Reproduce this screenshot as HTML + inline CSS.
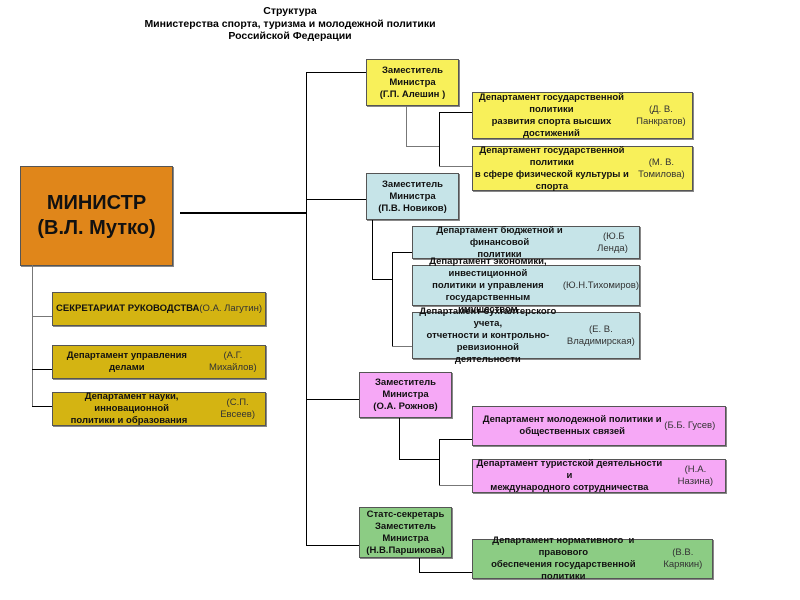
<!DOCTYPE html>
<html><head><meta charset="utf-8"><style>
body{margin:0;width:800px;height:600px;background:#fff;position:relative;overflow:hidden;font-family:"Liberation Sans","DejaVu Sans",sans-serif;}
.b{position:absolute;box-sizing:border-box;border:1px solid #555;box-shadow:1px 1px 0 #888;display:flex;align-items:center;justify-content:center;text-align:center;font-size:9.5px;line-height:12px;font-weight:bold;color:#111;}
.n{font-weight:normal;color:#333;}
.l{position:absolute;background:#000;}
.g{position:absolute;background:#777;}
.t{position:absolute;left:90px;width:400px;text-align:center;font-size:10.5px;font-weight:bold;line-height:12.5px;top:5px;}
.y{background:#f8f05a}.c{background:#c6e4e8}.p{background:#f6a8f6}.gr{background:#8ccc84}.o{background:#d4b412}
</style></head><body>
<div class="t">Структура<br>Министерства спорта, туризма и молодежной политики<br>Российской Федерации</div>

<div class="b" style="left:20px;top:166px;width:153px;height:100px;background:#e0861a;font-size:20px;line-height:25px;">МИНИСТР<br>(В.Л. Мутко)</div>

<!-- main lines -->
<div class="l" style="left:180px;top:212px;width:127px;height:2px"></div>
<div class="l" style="left:306px;top:72px;width:1px;height:474px"></div>
<div class="l" style="left:306px;top:72px;width:60px;height:1px"></div>
<div class="l" style="left:306px;top:199px;width:60px;height:1px"></div>
<div class="l" style="left:306px;top:399px;width:53px;height:1px"></div>
<div class="l" style="left:306px;top:545px;width:53px;height:1px"></div>

<!-- left -->
<div class="g" style="left:32px;top:265px;width:1px;height:142px"></div>
<div class="g" style="left:32px;top:316px;width:20px;height:1px"></div>
<div class="l" style="left:32px;top:369px;width:20px;height:1px"></div>
<div class="l" style="left:32px;top:406px;width:20px;height:1px"></div>
<div class="b o" style="left:52px;top:292px;width:214px;height:34px">СЕКРЕТАРИАТ РУКОВОДСТВА<br><span class="n">(О.А. Лагутин)</span></div>
<div class="b o" style="left:52px;top:345px;width:214px;height:34px">Департамент управления делами<br><span class="n">(А.Г. Михайлов)</span></div>
<div class="b o" style="left:52px;top:392px;width:214px;height:34px">Департамент науки, инновационной<br>политики и образования&nbsp;&nbsp;<span class="n">(С.П. Евсеев)</span></div>

<!-- Aleshin -->
<div class="b y" style="left:366px;top:59px;width:93px;height:47px">Заместитель<br>Министра<br>(Г.П. Алешин )</div>
<div class="g" style="left:406px;top:106px;width:1px;height:40px"></div>
<div class="g" style="left:406px;top:146px;width:33px;height:1px"></div>
<div class="l" style="left:439px;top:112px;width:1px;height:55px"></div>
<div class="l" style="left:439px;top:112px;width:33px;height:1px"></div>
<div class="g" style="left:439px;top:166px;width:33px;height:1px"></div>
<div class="b y" style="left:472px;top:92px;width:221px;height:47px">Департамент государственной политики<br>развития спорта высших достижений<br><span class="n">(Д. В. Панкратов)</span></div>
<div class="b y" style="left:472px;top:146px;width:221px;height:45px">Департамент государственной политики<br>в сфере физической культуры и спорта<br><span class="n">(М. В. Томилова)</span></div>

<!-- Novikov -->
<div class="b c" style="left:366px;top:173px;width:93px;height:47px">Заместитель<br>Министра<br>(П.В. Новиков)</div>
<div class="l" style="left:372px;top:220px;width:1px;height:59px"></div>
<div class="l" style="left:372px;top:279px;width:20px;height:1px"></div>
<div class="l" style="left:392px;top:252px;width:1px;height:95px"></div>
<div class="l" style="left:392px;top:252px;width:20px;height:1px"></div>
<div class="g" style="left:392px;top:346px;width:20px;height:1px"></div>
<div class="b c" style="left:412px;top:226px;width:228px;height:33px">Департамент бюджетной и финансовой<br>политики <span class="n">&nbsp;(Ю.Б Ленда)</span></div>
<div class="b c" style="left:412px;top:265px;width:228px;height:41px">Департамент экономики, инвестиционной<br>политики и управления государственным<br>имуществом <span class="n">(Ю.Н.Тихомиров)</span></div>
<div class="b c" style="left:412px;top:312px;width:228px;height:47px">Департамент бухгалтерского учета,<br>отчетности и контрольно-ревизионной<br>деятельности <span class="n">(Е. В. Владимирская)</span></div>

<!-- Rozhnov -->
<div class="b p" style="left:359px;top:372px;width:93px;height:46px">Заместитель<br>Министра<br>(О.А. Рожнов)</div>
<div class="l" style="left:399px;top:418px;width:1px;height:41px"></div>
<div class="l" style="left:399px;top:459px;width:40px;height:1px"></div>
<div class="l" style="left:439px;top:439px;width:1px;height:47px"></div>
<div class="l" style="left:439px;top:439px;width:33px;height:1px"></div>
<div class="g" style="left:439px;top:485px;width:33px;height:1px"></div>
<div class="b p" style="left:472px;top:406px;width:254px;height:40px">Департамент молодежной политики и<br>общественных связей <span class="n">&nbsp;(Б.Б. Гусев)</span></div>
<div class="b p" style="left:472px;top:459px;width:254px;height:34px">Департамент туристской деятельности и<br>международного сотрудничества <span class="n">(Н.А. Назина)</span></div>

<!-- Parshikova -->
<div class="b gr" style="left:359px;top:507px;width:93px;height:51px">Статс-секретарь<br>Заместитель<br>Министра<br>(Н.В.Паршикова)</div>
<div class="l" style="left:419px;top:558px;width:1px;height:15px"></div>
<div class="l" style="left:419px;top:572px;width:53px;height:1px"></div>
<div class="b gr" style="left:472px;top:539px;width:241px;height:40px">Департамент нормативного &nbsp;и правового<br>обеспечения государственной политики<br><span class="n">(В.В. Карякин)</span></div>
</body></html>
